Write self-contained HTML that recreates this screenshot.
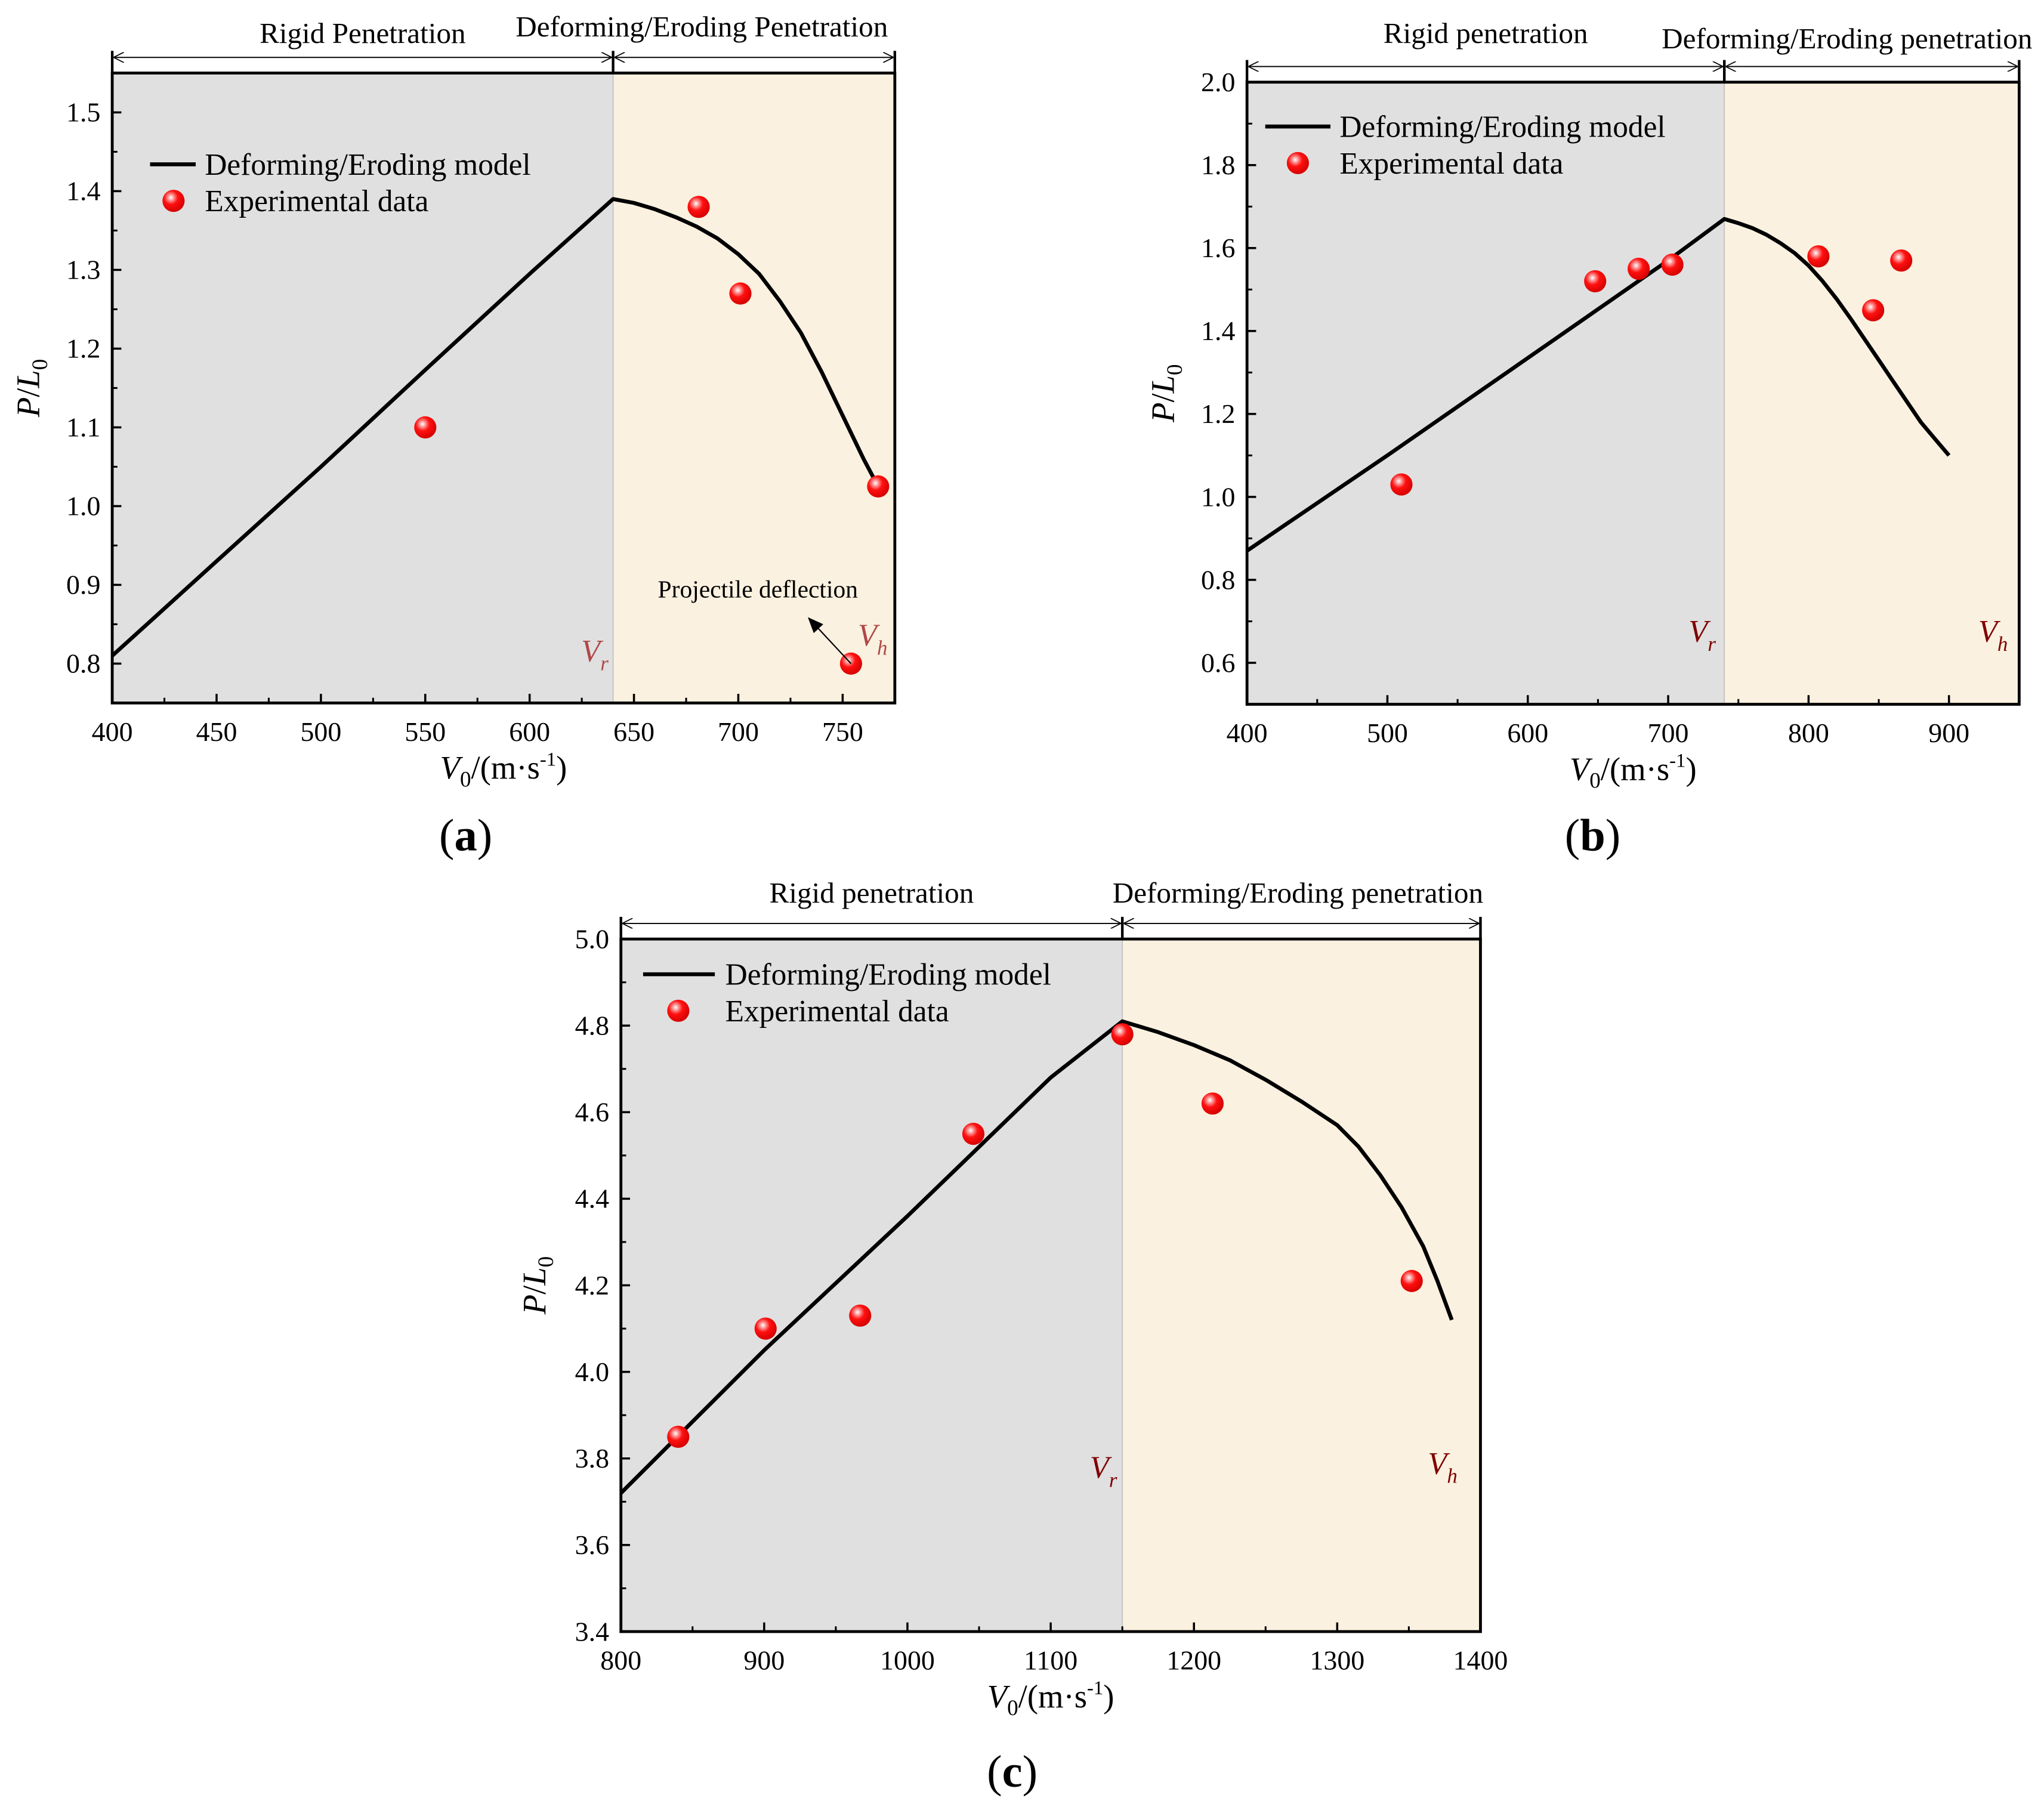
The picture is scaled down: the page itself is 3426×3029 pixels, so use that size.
<!DOCTYPE html>
<html><head><meta charset="utf-8"><style>
html,body{margin:0;padding:0;background:#fff;}
svg{display:block;font-family:"Liberation Serif","Times New Roman",serif;}
</style></head><body>
<svg id="fig" width="3426" height="3029" viewBox="0 0 1567 1385.5" xmlns="http://www.w3.org/2000/svg">
<defs>
<radialGradient id="ball" cx="0.38" cy="0.35" r="0.7">
<stop offset="0" stop-color="#ffffff"/><stop offset="0.18" stop-color="#ff9a9a"/><stop offset="0.45" stop-color="#ff1010"/><stop offset="1" stop-color="#d00000"/>
</radialGradient>
<marker id="arr" markerWidth="8" markerHeight="8" refX="7" refY="4" orient="auto" markerUnits="userSpaceOnUse"><path d="M0,0 L8,4 L0,8" fill="none" stroke="#000" stroke-width="0.8"/></marker>
<marker id="arrf" markerWidth="12" markerHeight="10" refX="11" refY="5" orient="auto" markerUnits="userSpaceOnUse"><path d="M0,0 L12,5 L0,10 z" fill="#000"/></marker>
</defs>
</svg>
<script>
// Panel (a) data
const aModelX=[400,450,500,550,600,640,650,660,670,680,690,700,710,720,730,740,750,760,767];
const aModelY=[0.81,0.93,1.05,1.173,1.295,1.39,1.385,1.377,1.367,1.355,1.34,1.32,1.295,1.26,1.22,1.17,1.115,1.06,1.025];
const aExpX=[550,681,701,767,754];
const aExpY=[1.10,1.38,1.27,1.025,0.80];
const aXTicks=[400,450,500,550,600,650,700,750];
const aYTicks=[0.8,0.9,1.0,1.1,1.2,1.3,1.4,1.5];
// Panel (b) data
const bModelX=[400,500,600,700,740,750,760,770,780,790,800,810,820,830,840,850,860,870,880,890,900];
const bModelY=[0.87,1.10,1.335,1.57,1.67,1.66,1.648,1.632,1.612,1.588,1.558,1.52,1.477,1.43,1.38,1.33,1.28,1.23,1.18,1.14,1.10];
const bExpX=[510,648,679,703,807,846,866];
const bExpY=[1.03,1.52,1.55,1.56,1.58,1.45,1.57];
const bXTicks=[400,500,600,700,800,900];
const bYTicks=[0.6,0.8,1.0,1.2,1.4,1.6,1.8,2.0];
// Panel (c) data
const cModelX=[800,900,1000,1100,1150,1175,1200,1225,1250,1275,1300,1315,1330,1345,1360,1370,1380];
const cModelY=[3.72,4.05,4.36,4.68,4.81,4.785,4.755,4.72,4.675,4.625,4.57,4.52,4.455,4.38,4.29,4.21,4.12];
const cExpX=[840,901,967,1046,1150,1213,1352];
const cExpY=[3.85,4.10,4.13,4.55,4.78,4.62,4.21];
const cXTicks=[800,900,1000,1100,1200,1300,1400];
const cYTicks=[3.4,3.6,3.8,4.0,4.2,4.4,4.6,4.8,5.0];

const NS="http://www.w3.org/2000/svg";
const svg=document.getElementById('fig');
function mk(tag,attrs,parent,text){const e=document.createElementNS(NS,tag);for(const k in attrs)e.setAttribute(k,attrs[k]);if(text!==undefined)e.textContent=text;(parent||svg).appendChild(e);return e;}

function panel(o){
  const g=mk('g',{});
  
  
  const sx=v=>o.L+(v-o.x0)/(o.x1-o.x0)*(o.R-o.L);
  const sy=v=>o.B-(v-o.y0)/(o.y1-o.y0)*(o.B-o.T);
  const vr=sx(o.vr);
  const r1=mk('rect',{x:o.L,y:o.T,width:vr-o.L,height:o.B-o.T,fill:'#e0e0e0'},g);
  
  const r2=mk('rect',{x:vr,y:o.T,width:o.R-vr,height:o.B-o.T,fill:'#faf1e0'},g);
  
  mk('line',{x1:vr,y1:o.T,x2:vr,y2:o.B,stroke:'#bbb','stroke-width':0.7},g);
  for(const t of o.xt){const x=sx(t);mk('line',{x1:x,y1:o.B,x2:x,y2:o.B-7,stroke:'#000','stroke-width':1.6},g);
    const tl=mk('text',{x:x,y:o.B+29,'font-size':21,'text-anchor':'middle'},g,String(t));
    }
  for(let v=o.x0;v<=o.x1+1e-9;v+=o.xm){const x=sx(v);mk('line',{x1:x,y1:o.B,x2:x,y2:o.B-4,stroke:'#000','stroke-width':1.4},g);}
  for(const t of o.yt){const y=sy(t);mk('line',{x1:o.L,y1:y,x2:o.L+7,y2:y,stroke:'#000','stroke-width':1.6},g);
    const tl=mk('text',{x:o.L-9,y:y+7,'font-size':21,'text-anchor':'end'},g,t.toFixed(1));
    }
  for(let v=o.y0;v<=o.y1+1e-9;v+=o.ym){const y=sy(v);mk('line',{x1:o.L,y1:y,x2:o.L+4,y2:y,stroke:'#000','stroke-width':1.4},g);}
  mk('rect',{x:o.L,y:o.T,width:o.R-o.L,height:o.B-o.T,fill:'none',stroke:'#000','stroke-width':2.2},g);
  mk('line',{x1:o.L,y1:o.T,x2:o.L,y2:o.T-17,stroke:'#000','stroke-width':2},g);
  mk('line',{x1:vr,y1:o.T,x2:vr,y2:o.T-17,stroke:'#000','stroke-width':2},g);
  mk('line',{x1:o.R,y1:o.T,x2:o.R,y2:o.T-17,stroke:'#000','stroke-width':2},g);
  const ay=o.T-12;
  mk('line',{x1:vr-3,y1:ay,x2:o.L+2,y2:ay,stroke:'#000','stroke-width':0.8,'marker-end':'url(#arr)'},g);
  mk('line',{x1:o.L+3,y1:ay,x2:vr-2,y2:ay,stroke:'#000','stroke-width':0.8,'marker-end':'url(#arr)'},g);
  mk('line',{x1:o.R-3,y1:ay,x2:vr+2,y2:ay,stroke:'#000','stroke-width':0.8,'marker-end':'url(#arr)'},g);
  mk('line',{x1:vr+3,y1:ay,x2:o.R-2,y2:ay,stroke:'#000','stroke-width':0.8,'marker-end':'url(#arr)'},g);
  const h1=mk('text',{x:(o.L+vr)/2,y:o.h1y,'font-size':22.5,'text-anchor':'middle'},g,o.h1);
  
  const h2=mk('text',{x:o.h2x,y:o.h2y,'font-size':22.5,'text-anchor':'middle'},g,o.h2);
  
  const d=o.mx.map((v,i)=>(i?'L':'M')+sx(v).toFixed(1)+','+sy(o.my[i]).toFixed(1)).join(' ');
  const ml=mk('path',{d:d,fill:'none',stroke:'#000','stroke-width':3,'stroke-linejoin':'round'},g);
  
  o.ex.forEach((v,i)=>{const c=mk('circle',{cx:sx(v),cy:sy(o.ey[i]),r:8.5,fill:'url(#ball)'},g);
    });
  mk('line',{x1:o.lg[0],y1:o.lg[1],x2:o.lg[0]+o.lgw,y2:o.lg[1],stroke:'#000','stroke-width':3},g);
  const l1=mk('text',{x:o.lg[2],y:o.lg[1]+8,'font-size':23.5},g,'Deforming/Eroding model');
  
  mk('circle',{cx:o.lg[3],cy:o.lg[1]+28,r:8.5,fill:'url(#ball)'},g);
  const l2=mk('text',{x:o.lg[2],y:o.lg[1]+36,'font-size':23.5},g,'Experimental data');
  
  const vrt=mk('text',{x:o.vrp[0],y:o.vrp[1],'font-size':24,'font-style':'italic',fill:o.vc,'text-anchor':'middle'},g);
  vrt.innerHTML='V<tspan font-size="16" dy="7">r</tspan>';
  
  const vht=mk('text',{x:o.vhp[0],y:o.vhp[1],'font-size':24,'font-style':'italic',fill:o.vc,'text-anchor':'middle'},g);
  vht.innerHTML='V<tspan font-size="16" dy="7">h</tspan>';
  
  const xt=mk('text',{x:(o.L+o.R)/2,y:o.B+58,'font-size':25,'text-anchor':'middle'},g);
  xt.innerHTML='<tspan font-style="italic">V</tspan><tspan font-size="17" dy="6">0</tspan><tspan dy="-6">/(m·s</tspan><tspan font-size="15" dy="-10">-1</tspan><tspan dy="10">)</tspan>';
  
  const yt=mk('text',{x:0,y:0,'font-size':25,'text-anchor':'middle',transform:'translate('+o.ytx+','+(o.T+o.B)/2+') rotate(-90)'},g);
  yt.innerHTML='<tspan font-style="italic">P</tspan>/<tspan font-style="italic">L</tspan><tspan font-size="17" dy="6">0</tspan>';
  
  const pl=mk('text',{x:o.plx,y:o.ply,'font-size':35,'text-anchor':'middle'},g);
  pl.innerHTML='(<tspan font-weight="bold">'+o.id+'</tspan>)';
  
  return {g,sx,sy};
}

const pa=panel({id:'a',L:86,R:686,T:56,B:539,x0:400,x1:775,y0:0.75,y1:1.55,xm:25,ym:0.05,vr:640,xt:aXTicks,yt:aYTicks,
  mx:aModelX,my:aModelY,ex:aExpX,ey:aExpY,h1:'Rigid Penetration',h1y:33,h2:'Deforming/Eroding Penetration',h2x:538,h2y:28,
  lg:[115,126,157,133],lgw:35,vrp:[456,507],vhp:[669,495],vc:'#b04848',ytx:30,plx:357,ply:652});
const pb=panel({id:'b',L:956,R:1548,T:63,B:540,x0:400,x1:950,y0:0.5,y1:2.0,xm:50,ym:0.1,vr:740,xt:bXTicks,yt:bYTicks,
  mx:bModelX,my:bModelY,ex:bExpX,ey:bExpY,h1:'Rigid penetration',h1y:33,h2:'Deforming/Eroding penetration',h2x:1416,h2y:37,
  lg:[970,97,1027,995],lgw:50,vrp:[1305,492],vhp:[1528,492],vc:'#800000',ytx:900,plx:1221,ply:652});
const pc=panel({id:'c',L:476,R:1135,T:720,B:1251,x0:800,x1:1400,y0:3.4,y1:5.0,xm:50,ym:0.1,vr:1150,xt:cXTicks,yt:cYTicks,
  mx:cModelX,my:cModelY,ex:cExpX,ey:cExpY,h1:'Rigid penetration',h1y:692,h2:'Deforming/Eroding penetration',h2x:995,h2y:692,
  lg:[493,747,556,520],lgw:55,vrp:[846,1133],vhp:[1106,1130],vc:'#800000',ytx:418,plx:776,ply:1370});
const ann=mk('text',{x:581,y:458,'font-size':19,'text-anchor':'middle'},pa.g,'Projectile deflection');


const arl=mk('line',{x1:pa.sx(754),y1:pa.sy(0.80),x2:620,y2:474,stroke:'#000','stroke-width':1,'marker-end':'url(#arrf)'},pa.g);


</script>
</body></html>
